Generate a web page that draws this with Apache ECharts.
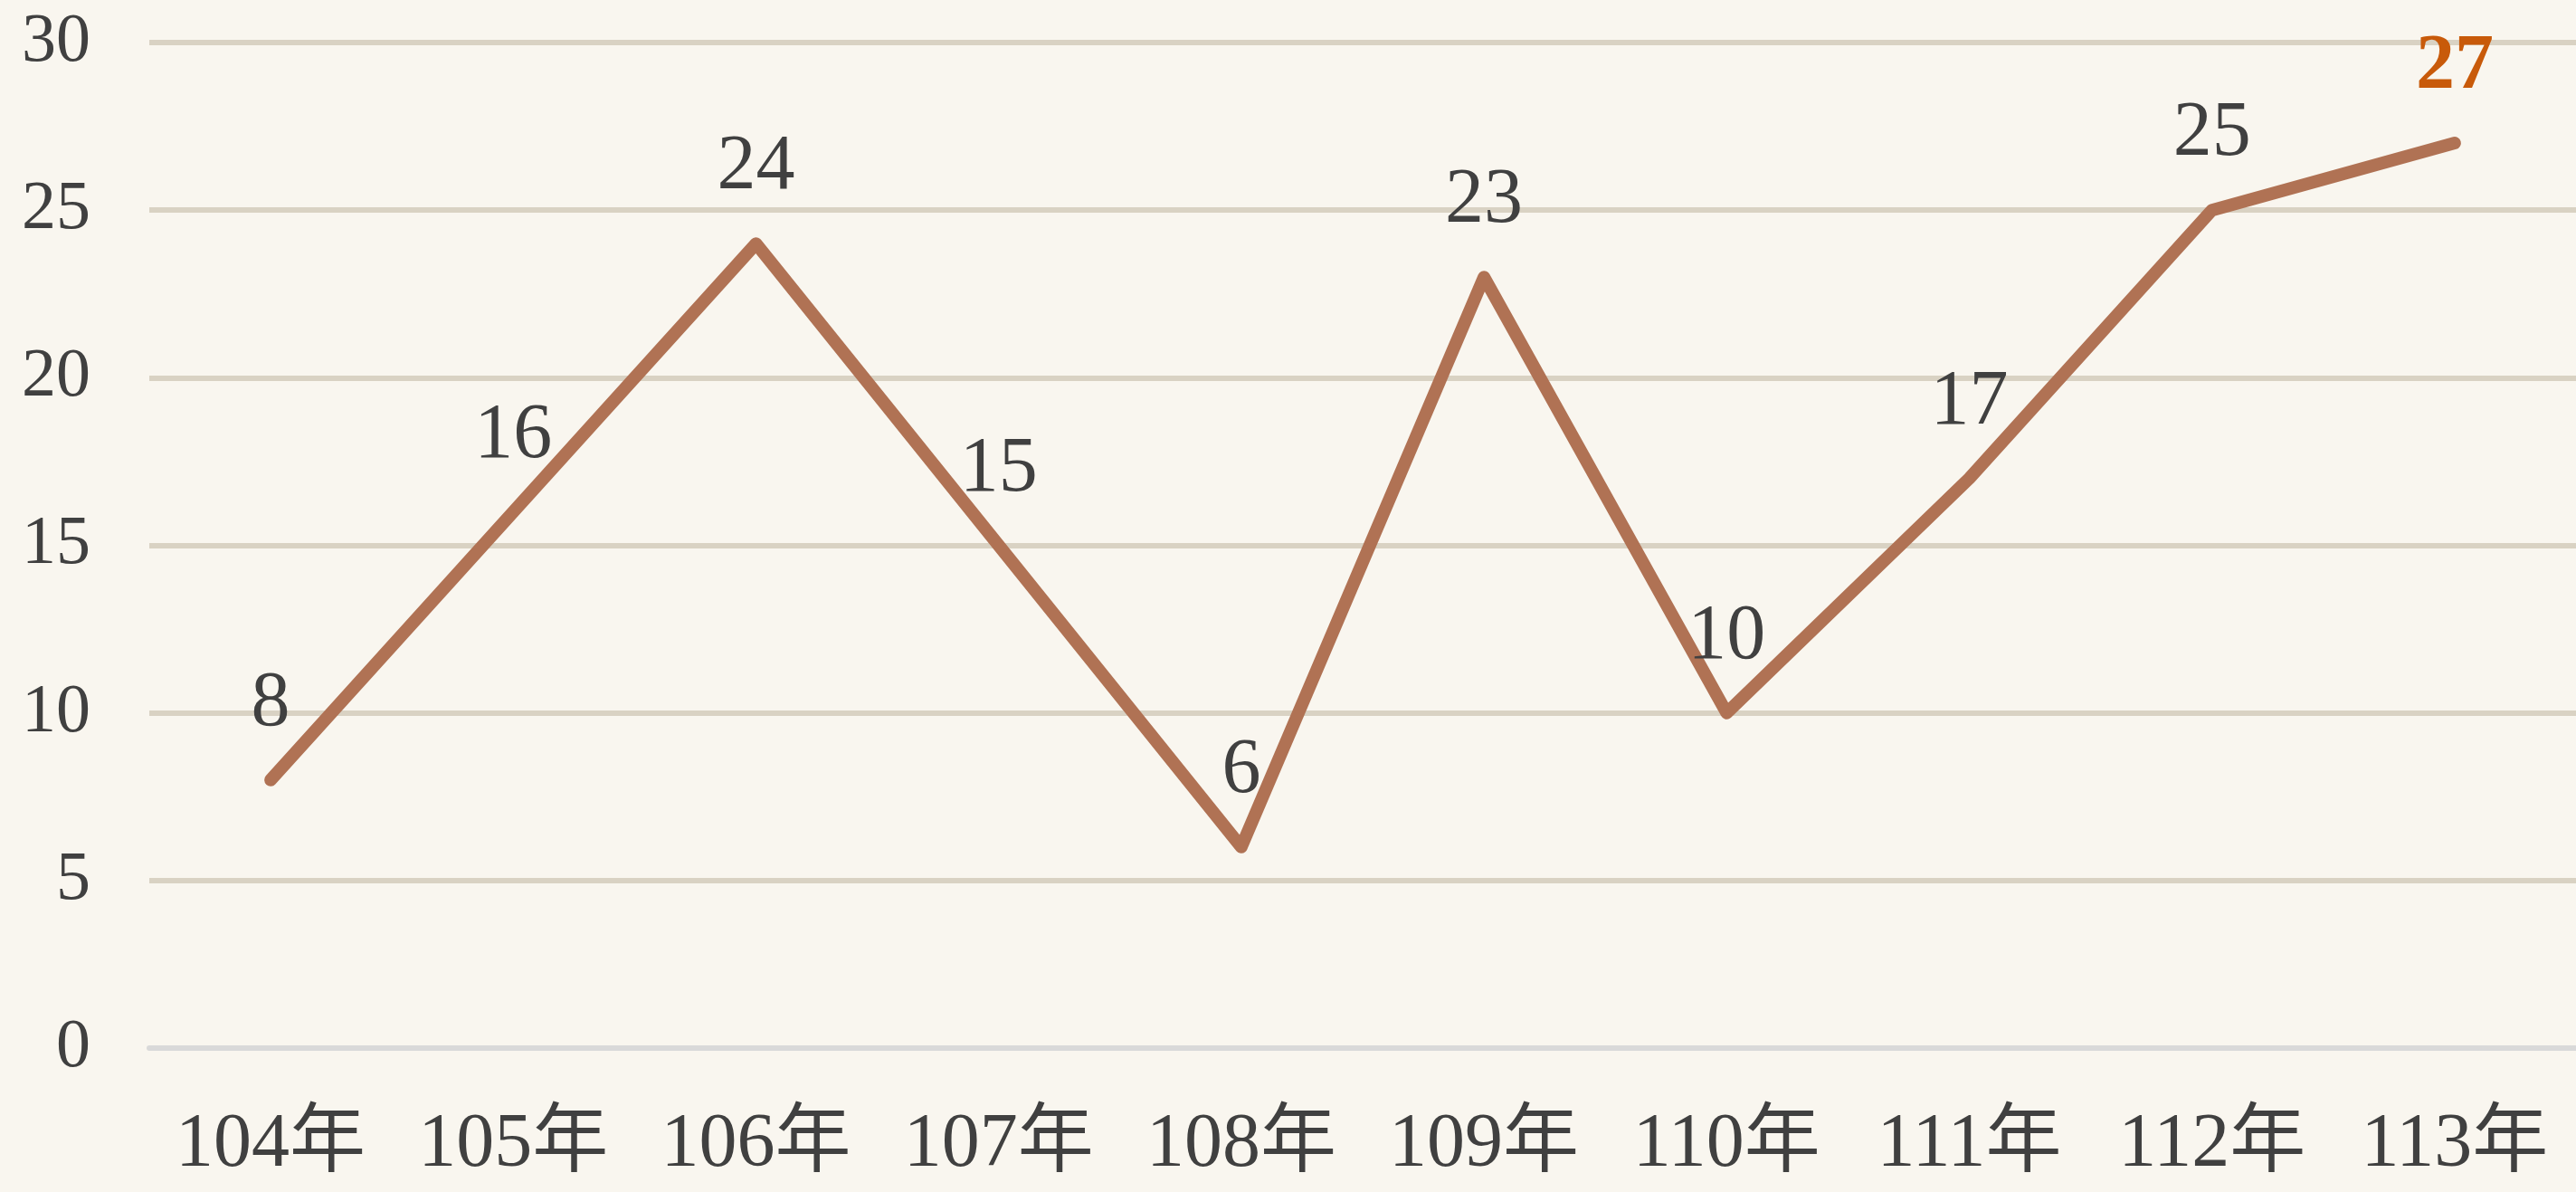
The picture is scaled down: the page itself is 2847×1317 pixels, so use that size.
<!DOCTYPE html>
<html>
<head>
<meta charset="utf-8">
<script src="https://cdn.jsdelivr.net/npm/echarts@6/dist/echarts.min.js"></script>
<style>
  html, body { margin: 0; padding: 0; background: #f9f6ef; }
  #chart { width: 2847px; height: 1317px; }
</style>
</head>
<body>
<div id="chart"></div>
<script>
// data
const years = ["104年", "105年", "106年", "107年", "108年", "109年", "110年", "111年", "112年", "113年"];
const counts = [8, 16, 24, 15, 6, 23, 10, 17, 25, 27];
const yTicks = { min: 0, max: 30, interval: 5 };

const serif = '"Liberation Serif", "Times New Roman", "Noto Sans CJK TC", serif';
const lastIdx = counts.length - 1;

const chart = echarts.init(document.getElementById("chart"));

chart.setOption({
  backgroundColor: "#f9f6ef",
  animation: false,
  grid: { left: 165, right: -12, top: 47, bottom: 159 },
  xAxis: {
    type: "category",
    data: years,
    boundaryGap: true,
    axisLine: { lineStyle: { color: "#d9d9d9", width: 6 } },
    axisTick: { show: false },
    axisLabel: { color: "#404040", fontSize: 84, fontFamily: serif, margin: 66, interval: 0 },
  },
  yAxis: {
    type: "value",
    min: yTicks.min,
    max: yTicks.max,
    interval: yTicks.interval,
    axisLine: { show: false },
    axisTick: { show: false },
    axisLabel: { color: "#404040", fontSize: 76, fontFamily: serif, margin: 65 },
    splitLine: { lineStyle: { color: "#d9d2c3", width: 6 } },
  },
  series: [
    {
      type: "line",
      data: counts.map((v, i) =>
        i === lastIdx
          ? { value: v, label: { color: "#c85a0a", fontWeight: "bold" } }
          : v
      ),
      showSymbol: true,
      symbol: "circle",
      symbolSize: 1,
      itemStyle: { color: "#b07254" },
      lineStyle: { color: "#b07254", width: 14, cap: "round", join: "round" },
      label: {
        show: true,
        position: "top",
        distance: 40,
        color: "#404040",
        fontSize: 86,
        fontFamily: serif,
      },
      labelLayout: { hideOverlap: false },
    },
  ],
});
</script>
</body>
</html>
